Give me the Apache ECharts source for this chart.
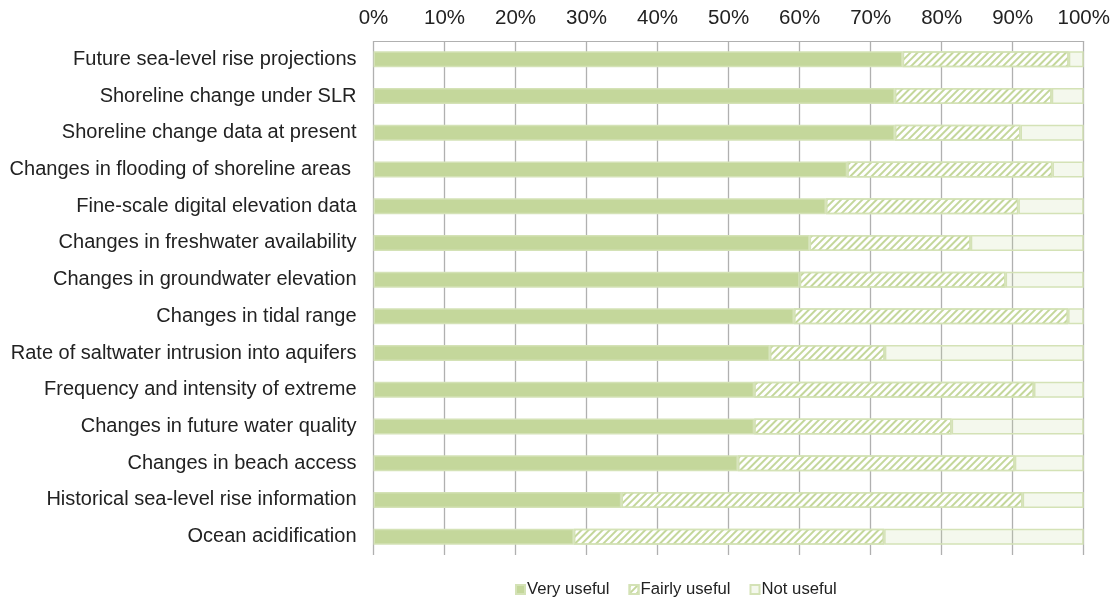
<!DOCTYPE html>
<html>
<head>
<meta charset="utf-8">
<script src="https://cdn.jsdelivr.net/npm/echarts@6/dist/echarts.min.js"></script>
<style>
  html, body { margin: 0; padding: 0; background: #ffffff; }
  #chart { width: 1115px; height: 600px; }
</style>
</head>
<body>
<div id="chart"></div>
<script>
const categories = [
  "Future sea-level rise projections",
  "Shoreline change under SLR",
  "Shoreline change data at present",
  "Changes in flooding of shoreline areas ",
  "Fine-scale digital elevation data",
  "Changes in freshwater availability",
  "Changes in groundwater elevation",
  "Changes in tidal range",
  "Rate of saltwater intrusion into aquifers",
  "Frequency and intensity of extreme",
  "Changes in future water quality",
  "Changes in beach access",
  "Historical sea-level rise information",
  "Ocean acidification"
];
const veryUseful   = [74.5, 73.4, 73.4, 66.7, 63.7, 61.4, 60.0, 59.2, 55.8, 53.6, 53.6, 51.3, 34.9, 28.2];
const fairlyUseful = [23.4, 22.1, 17.7, 28.9, 27.1, 22.7, 29.0, 38.6, 16.2, 39.4, 27.8, 39.0, 56.5, 43.7];
const notUseful    = [2.1, 4.5, 8.9, 4.4, 9.2, 15.9, 11.0, 2.2, 28.0, 7.0, 18.6, 9.7, 8.6, 28.1];
const tickLabels = ["0%", "10%", "20%", "30%", "40%", "50%", "60%", "70%", "80%", "90%", "100%"];

const green = '#c4d79b';
const border = '#d4e2b6';
const font = '"Liberation Sans", Arial, sans-serif';

const chart = echarts.init(document.getElementById('chart'), null, { renderer: 'canvas' });
chart.setOption({
  animation: false,
  backgroundColor: '#ffffff',
  textStyle: { fontFamily: font },
  grid: { left: 373.5, right: 31.3, top: 41, bottom: 45, containLabel: false },
  legend: {
    top: 581,
    left: 510,
    padding: [0, 5, 0, 5],
    itemWidth: 9,
    itemHeight: 9,
    itemGap: 19,
    icon: 'rect',
    textStyle: { fontFamily: font, fontSize: 16.7, color: '#222', padding: [0, 0, 0, -3] },
    data: ['Very useful', 'Fairly useful', 'Not useful']
  },
  xAxis: {
    type: 'value',
    position: 'top',
    min: 0, max: 100, interval: 10,
    axisLabel: {
      fontFamily: font, fontSize: 20.5, color: '#222', margin: 12,
      formatter: function (v) { return tickLabels[Math.round(v / 10)]; }
    },
    axisLine: { show: true, lineStyle: { color: '#b0b0b0', width: 1 } },
    axisTick: { show: false },
    splitLine: { show: true, lineStyle: { color: '#b0b0b0', width: 1.3 } }
  },
  yAxis: {
    type: 'category',
    inverse: true,
    data: categories,
    axisLabel: { fontFamily: font, fontSize: 20, color: '#222', margin: 17 },
    axisLine: { show: false },
    axisTick: { show: false },
    splitLine: { show: false }
  },
  series: [
    {
      name: 'Very useful', type: 'bar', stack: 'total', barWidth: 16,
      itemStyle: { color: green, borderColor: border, borderWidth: 1.5 },
      data: veryUseful
    },
    {
      name: 'Fairly useful', type: 'bar', stack: 'total', barWidth: 16,
      itemStyle: {
        color: '#ffffff', borderColor: border, borderWidth: 1.5,
        decal: {
          symbol: 'rect', symbolSize: 1,
          dashArrayX: [1, 0], dashArrayY: [2, 3],
          rotation: -Math.PI / 4,
          color: green
        }
      },
      data: fairlyUseful
    },
    {
      name: 'Not useful', type: 'bar', stack: 'total', barWidth: 16,
      itemStyle: { color: 'rgba(196,215,155,0.18)', borderColor: border, borderWidth: 1.5 },
      data: notUseful
    }
  ]
});
</script>
</body>
</html>
